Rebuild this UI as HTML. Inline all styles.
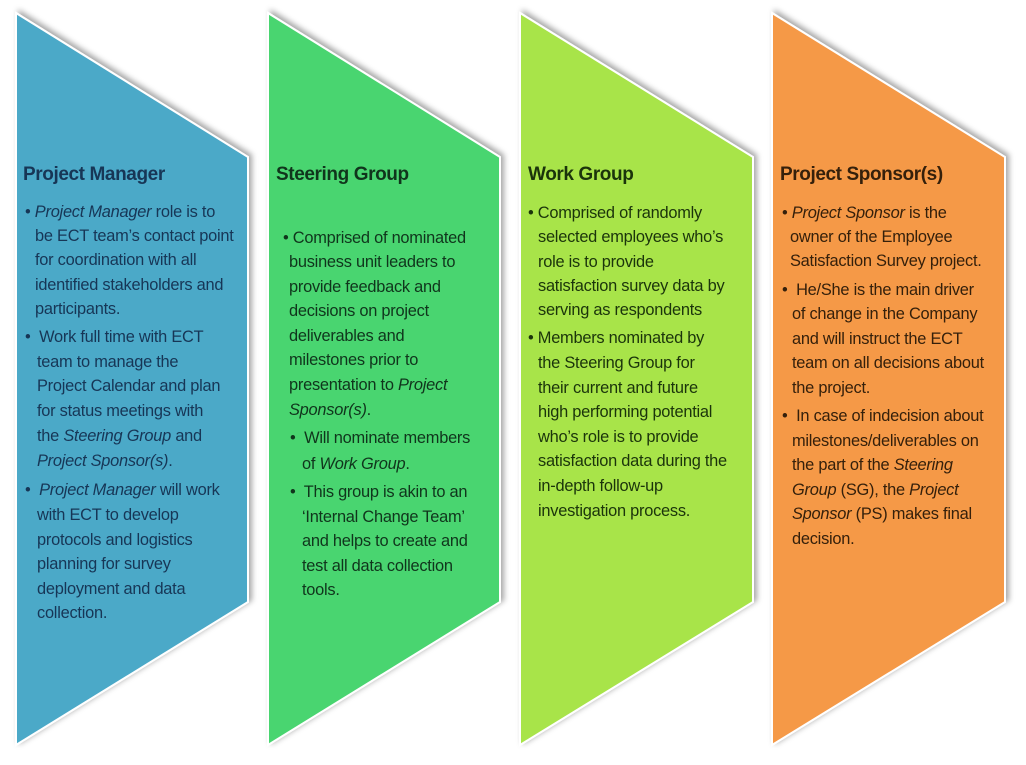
<!DOCTYPE html>
<html><head><meta charset="utf-8"><style>
body{margin:0;width:1026px;height:765px;background:#fff;position:relative;overflow:hidden;font-family:"Liberation Sans",sans-serif}
svg{position:absolute;left:0;top:0}
.l{position:absolute;font-size:16.4px;line-height:20px;white-space:nowrap;letter-spacing:-0.25px}
.t{position:absolute;font-size:19px;font-weight:bold;line-height:22px;white-space:nowrap;letter-spacing:-0.4px}
.p1{color:#173656}.p2{color:#10351c}.p3{color:#1b340b}.p4{color:#35200b}
</style></head><body>
<svg width="1026" height="765">
<defs><filter id="s" x="-10%" y="-10%" width="130%" height="130%"><feDropShadow dx="3" dy="-2" stdDeviation="3" flood-color="#000" flood-opacity="0.35"/></filter></defs>
<g filter="url(#s)" stroke="#fff" stroke-width="2">
<polygon points="16,13 248,157 248,602 16,745" fill="#4ba9c8"/>
<polygon points="268,13 500,157 500,602 268,745" fill="#48d570"/>
<polygon points="520,13 753,157 753,602 520,745" fill="#a8e449"/>
<polygon points="772,13 1005,157 1005,602 772,745" fill="#f59947"/>
</g>
</svg>

<div class="t p1" style="left:23px;top:164px">Project Manager</div>
<div class="l p1" style="left:25px;top:202px">• <i>Project Manager</i> role is to</div>
<div class="l p1" style="left:35px;top:226px">be ECT team’s contact point</div>
<div class="l p1" style="left:35px;top:250px">for coordination with all</div>
<div class="l p1" style="left:35px;top:275px">identified stakeholders and</div>
<div class="l p1" style="left:35px;top:299px">participants.</div>
<div class="l p1" style="left:25px;top:327px">•&nbsp; Work full time with ECT</div>
<div class="l p1" style="left:37px;top:352px">team to manage the</div>
<div class="l p1" style="left:37px;top:376px">Project Calendar and plan</div>
<div class="l p1" style="left:37px;top:401px">for status meetings with</div>
<div class="l p1" style="left:37px;top:426px">the <i>Steering Group</i> and</div>
<div class="l p1" style="left:37px;top:451px"><i>Project Sponsor(s)</i>.</div>
<div class="l p1" style="left:25px;top:480px">•&nbsp; <i>Project Manager</i> will work</div>
<div class="l p1" style="left:37px;top:505px">with ECT to develop</div>
<div class="l p1" style="left:37px;top:530px">protocols and logistics</div>
<div class="l p1" style="left:37px;top:554px">planning for survey</div>
<div class="l p1" style="left:37px;top:579px">deployment and data</div>
<div class="l p1" style="left:37px;top:603px">collection.</div>

<div class="t p2" style="left:276px;top:164px">Steering Group</div>
<div class="l p2" style="left:283px;top:228px">• Comprised of nominated</div>
<div class="l p2" style="left:289px;top:252px">business unit leaders to</div>
<div class="l p2" style="left:289px;top:277px">provide feedback and</div>
<div class="l p2" style="left:289px;top:301px">decisions on project</div>
<div class="l p2" style="left:289px;top:326px">deliverables and</div>
<div class="l p2" style="left:289px;top:350px">milestones prior to</div>
<div class="l p2" style="left:289px;top:375px">presentation to <i>Project</i></div>
<div class="l p2" style="left:289px;top:400px"><i>Sponsor(s)</i>.</div>
<div class="l p2" style="left:290px;top:428px">•&nbsp; Will nominate members</div>
<div class="l p2" style="left:302px;top:454px">of <i>Work Group</i>.</div>
<div class="l p2" style="left:290px;top:482px">•&nbsp; This group is akin to an</div>
<div class="l p2" style="left:302px;top:507px">‘Internal Change Team’</div>
<div class="l p2" style="left:302px;top:531px">and helps to create and</div>
<div class="l p2" style="left:302px;top:556px">test all data collection</div>
<div class="l p2" style="left:302px;top:580px">tools.</div>

<div class="t p3" style="left:528px;top:164px">Work Group</div>
<div class="l p3" style="left:528px;top:203px">• Comprised of randomly</div>
<div class="l p3" style="left:538px;top:227px">selected employees who’s</div>
<div class="l p3" style="left:538px;top:252px">role is to provide</div>
<div class="l p3" style="left:538px;top:276px">satisfaction survey data by</div>
<div class="l p3" style="left:538px;top:300px">serving as respondents</div>
<div class="l p3" style="left:528px;top:328px">• Members nominated by</div>
<div class="l p3" style="left:538px;top:353px">the Steering Group for</div>
<div class="l p3" style="left:538px;top:378px">their current and future</div>
<div class="l p3" style="left:538px;top:402px">high performing potential</div>
<div class="l p3" style="left:538px;top:427px">who’s role is to provide</div>
<div class="l p3" style="left:538px;top:451px">satisfaction data during the</div>
<div class="l p3" style="left:538px;top:476px">in-depth follow-up</div>
<div class="l p3" style="left:538px;top:501px">investigation process.</div>

<div class="t p4" style="left:780px;top:164px">Project Sponsor(s)</div>
<div class="l p4" style="left:782px;top:203px">• <i>Project Sponsor</i> is the</div>
<div class="l p4" style="left:790px;top:227px">owner of the Employee</div>
<div class="l p4" style="left:790px;top:251px">Satisfaction Survey project.</div>
<div class="l p4" style="left:782px;top:280px">•&nbsp; He/She is the main driver</div>
<div class="l p4" style="left:792px;top:304px">of change in the Company</div>
<div class="l p4" style="left:792px;top:329px">and will instruct the ECT</div>
<div class="l p4" style="left:792px;top:353px">team on all decisions about</div>
<div class="l p4" style="left:792px;top:378px">the project.</div>
<div class="l p4" style="left:782px;top:406px">•&nbsp; In case of indecision about</div>
<div class="l p4" style="left:792px;top:431px">milestones/deliverables on</div>
<div class="l p4" style="left:792px;top:455px">the part of the <i>Steering</i></div>
<div class="l p4" style="left:792px;top:480px"><i>Group</i> (SG), the <i>Project</i></div>
<div class="l p4" style="left:792px;top:504px"><i>Sponsor</i> (PS) makes final</div>
<div class="l p4" style="left:792px;top:529px">decision.</div>
</body></html>
